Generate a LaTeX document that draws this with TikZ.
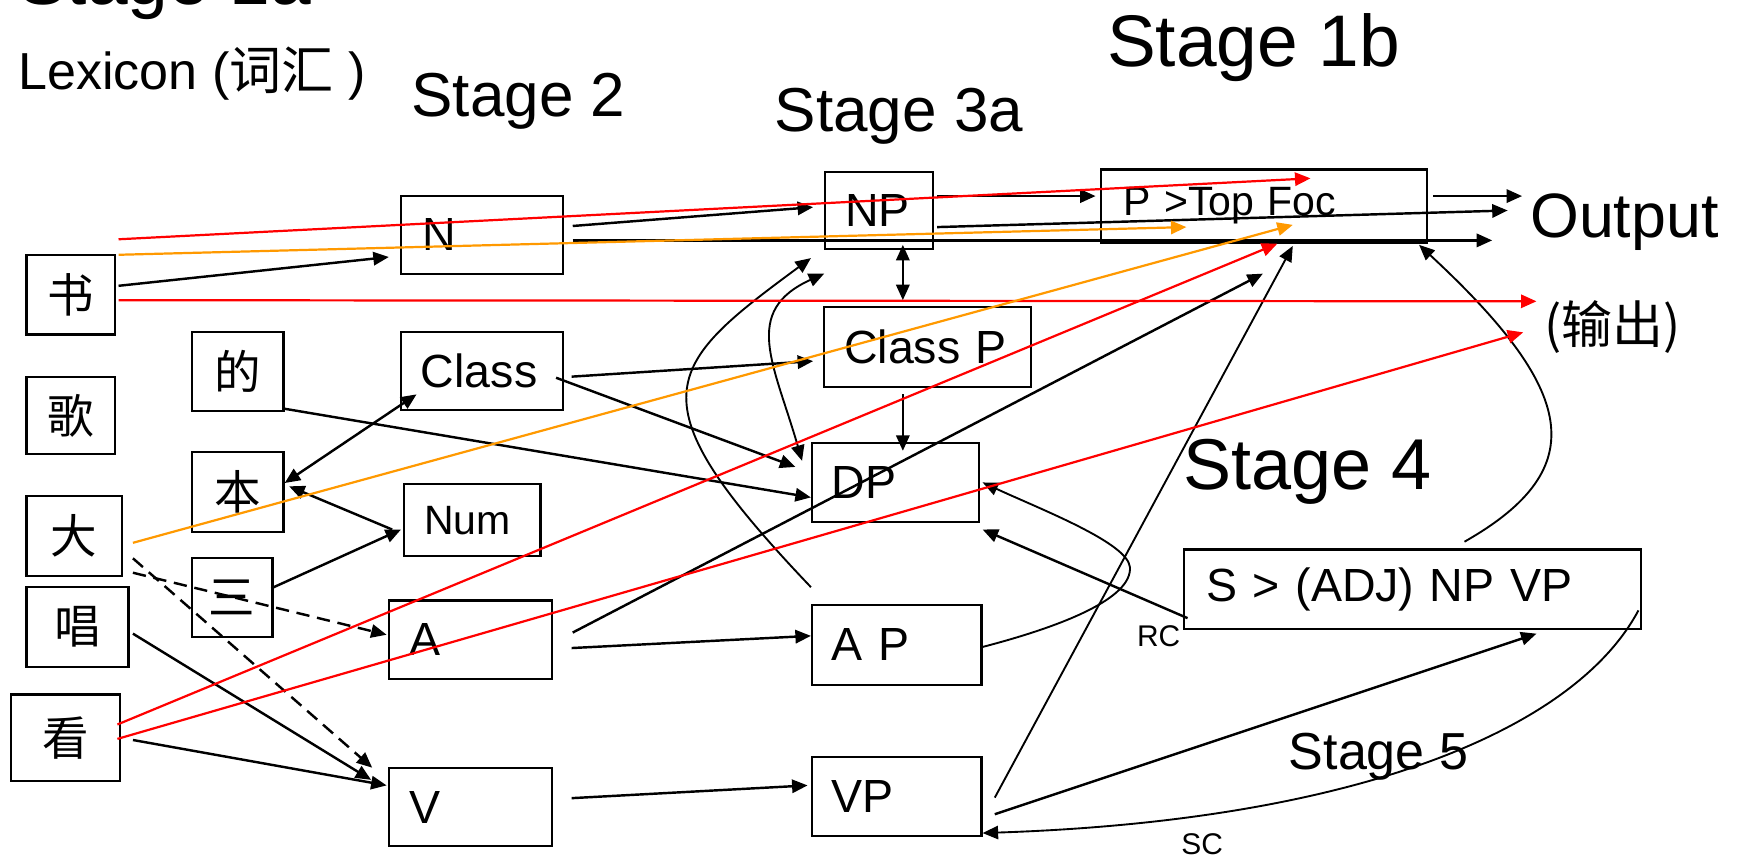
\documentclass[tikz,border=0pt]{standalone}
\usepackage{fontspec}
\setmainfont{Liberation Sans}
\newfontfamily\cjk{Noto Sans CJK SC}
\usetikzlibrary{arrows.meta,calc}
\definecolor{lred}{RGB}{255,0,0}
\definecolor{lorange}{RGB}{255,153,0}
\newcommand\fsz[1]{\fontsize{#1}{#1}\selectfont}
\tikzset{
  box/.style={draw, line width=1pt, inner ysep=0pt, align=left, font=\fsz{21}},
  cbox/.style={draw, line width=1pt, inner sep=0pt, font=\cjk\fsz{21}},
  lbl/.style={anchor=base west, inner sep=0pt},
  tip/.style={-{Triangle[length=7pt,width=6pt]}},
  arr/.style={tip, line width=1.1pt},
  darr/.style={{Triangle[length=7pt,width=6pt]}-{Triangle[length=7pt,width=6pt]}, line width=1.1pt},
  thin/.style={line width=0.85pt},
  dasharr/.style={arr, dash pattern=on 6pt off 3.5pt},
  redarr/.style={tip, draw=lred, line width=1pt},
  orarr/.style={tip, draw=lorange, line width=1pt}
}
\begin{document}
\begin{tikzpicture}[x=0.5pt,y=-0.5pt]
\useasboundingbox (0,0) rectangle (1568,775);

% headings
\node[lbl, font=\fsz{33}] (s1a) at (16,4) {Stage 1a};
\node[lbl, font=\fsz{23.5}] (lex) at (16,81) {Lexicon ({\cjk 词汇} )};
\node[lbl, font=\fsz{28}] (s2) at (371,105) {Stage 2};
\node[lbl, font=\fsz{28}] (s3a) at (699,119) {Stage 3a};
\node[lbl, font=\fsz{33}] (s1b) at (999,60) {Stage 1b};
\node[lbl, font=\fsz{32.5}] (s4) at (1068,442) {Stage 4};
\node[lbl, font=\fsz{23.5}] (s5) at (1163,695) {Stage 5};
\node[lbl, font=\fsz{28.3}] (out) at (1381,214) {Output};
\node[anchor=west, inner sep=0pt, font=\cjk\fsz{23}] (outcn) at (1394,295) {(输出)};
\node[lbl, font=\fsz{13.5}] (rc) at (1026,584) {RC};
\node[lbl, font=\fsz{13.5}] (sc) at (1066,771) {SC};

% lexicon entries
\node[cbox, minimum width=40pt, minimum height=36pt] (shu) at (64,266) {书};
\node[cbox, minimum width=40pt, minimum height=35pt] (ge) at (64,375) {歌};
\node[cbox, minimum width=43pt, minimum height=36pt] (da) at (67,484) {大};
\node[cbox, minimum width=46pt, minimum height=36pt] (chang) at (70,566) {唱};
\node[cbox, minimum width=49pt, minimum height=39pt] (kan) at (59,666) {看};
\node[cbox, minimum width=41.5pt, minimum height=35.5pt] (de) at (214.5,335.5) {的};
\node[cbox, minimum width=41.5pt, minimum height=36pt] (ben) at (214.5,444) {本};
\node[cbox, minimum width=36.5pt, minimum height=35.5pt] (san) at (209.5,539.5) {三};

% category boxes
\node[box, minimum height=35pt, text width=54pt, inner xsep=9.5pt] (N) at (435,212) {N};
\node[box, minimum height=35pt, text width=55pt, inner xsep=9pt] (Class) at (435,335) {Class};
\node[box, minimum height=32.5pt, text width=43.5pt, inner xsep=9pt, font=\fsz{18.5}] (Num) at (426.5,469.5) {Num};
\node[box, minimum height=35.5pt, text width=54.5pt, inner xsep=9.5pt] (A) at (424.5,577.5) {A};
\node[box, minimum height=35.5pt, text width=54.5pt, inner xsep=9.5pt] (V) at (424.5,728.5) {V};
\node[box, minimum height=35pt, text width=30.5pt, inner xsep=9pt] (NP) at (793.5,190) {NP};
\node[box, minimum height=36pt, text width=75.5pt, inner xsep=9pt] (ClassP) at (837.5,313) {Class P};
\node[box, minimum height=35.5pt, text width=57.5pt, inner xsep=9pt] (DP) at (808.5,435.5) {DP};
\node[box, minimum height=36pt, text width=58.5pt, inner xsep=9pt] (AP) at (809.5,582) {A P};
\node[box, minimum height=36pt, text width=58.5pt, inner xsep=9pt] (VP) at (809.5,719) {VP};
\node[box, minimum height=33pt, text width=127pt, inner xsep=10pt, font=\fsz{18.5}] (PT) at (1141,186) {P >Top Foc};
\node[box, minimum height=36pt, text width=186pt, inner xsep=10pt] (S) at (1275,532) {S > (ADJ) NP VP};

% black connectors
\draw[arr] ($(shu.east)+(2,-8)$) -- ($(N.west)+(-10,20)$);
\draw[arr] ($(N.east)+(8,-8)$) -- ($(NP.west)+(-10,-3)$);
\draw[arr] ($(N.east)+(8,5)$) -- ($(out.base west)+(-34,3)$);
\draw[arr] ($(NP.east)+(3,-13)$) -- ($(PT.west)+(-4,-9)$);
\draw[arr] ($(NP.east)+(3,15)$) -- ($(out.base west)+(-20,-24)$);
\draw[arr] ($(PT.east)+(5,-9)$) -- ($(out.base west)+(-7,-37)$);
\draw[arr] ($(Class.east)+(7,5)$) -- ($(ClassP.west)+(-9,13)$);
\draw[arr] ($(Class.east)+(-7,6)$) -- ($(DP.west)+(-14,-14)$);
\draw[arr] ($(de.south east)+(0,-3)$) -- ($(DP.west)+(0,13.5)$);
\draw[darr] ($(NP.south)+(21.5,-5)$) -- ($(ClassP.north)+(-22.5,-5)$);
\draw[arr] ($(ClassP.south)+(-22.5,6)$) -- ($(DP.north)+(6.5,8)$);
\draw[darr] ($(ben.east)+(0,-8)$) -- ($(Class.south west)+(15,-15)$);
\draw[arr] ($(Num.west)+(-10,8.5)$) -- ($(ben.east)+(4,-5)$);
\draw[arr] ($(san.east)+(-2,-8.5)$) -- ($(Num.west)+(-2,8.5)$);
\draw[dasharr] ($(da.east)+(9,33)$) -- ($(A.west)+(-1,-4.5)$);
\draw[dasharr] ($(da.east)+(9,20)$) -- ($(V.west)+(-14,-35.5)$);
\draw[arr] ($(chang.east)+(3,6)$) -- ($(V.west)+(-15,-24.5)$);
\draw[arr] ($(kan.east)+(11,2)$) -- ($(V.west)+(-1,-19.5)$);
\draw[arr] ($(A.east)+(17,7.5)$) -- ($(AP.west)+(0,-8)$);
\draw[arr] ($(A.east)+(18,-6.5)$) -- ($(PT.south)+(-1,27)$);
\draw[arr] ($(V.east)+(17,-8)$) -- ($(VP.west)+(-3,-10)$);

% stage 4 / stage 5 links
\draw[arr, thin] ($(AP.east)+(0,2)$) .. controls (960,565) and (1022,540) .. (1020,512)
  .. controls (1018,490) and (940,460) .. ($(DP.east)+(2,0)$);
\draw[arr] ($(S.west)+(4,26)$) -- ($(DP.south east)+(2,6)$);
\draw[arr, thin] ($(S.north)+(47,-6)$) .. controls +(118,-67) and +(140,130) .. ($(PT.south east)+(-8,1)$);
\draw[arr, thin] ($(VP.east)+(11,1)$) -- ($(PT.south)+(26,2)$);
\draw[arr] ($(VP.east)+(11,16)$) -- ($(S.south)+(112,3)$);
\draw[arr, thin] ($(S.east)+(-3,19)$) .. controls +(-58,109) and +(334,-11) .. ($(VP.south east)+(0,-4)$);
\draw[arr, thin] ($(AP.north west)+(0,-15)$) .. controls +(-163,-171) and +(-133,98) .. ($(NP.south west)+(-12,7)$);
\draw[darr, thin] ($(DP.north west)+(-8,17)$) .. controls +(-25,-87) and +(-75,34) .. ($(NP.south west)+(0,21)$);

% red routes
\draw[redarr] ($(shu.north east)+(2,-13)$) -- ($(PT.north)+(42,9)$);
\draw[redarr] ($(shu.east)+(2,5)$) -- ($(outcn.west)+(-7,-23)$);
\draw[redarr] ($(kan.east)+(-3,-12)$) -- ($(PT.south)+(12,0)$);
\draw[redarr] ($(kan.east)+(-3,1)$) -- ($(outcn.west)+(-19,5)$);

% orange routes
\draw[orarr] ($(shu.north east)+(2,1)$) -- ($(PT.west)+(78,19)$);
\draw[orarr] ($(da.east)+(9,6)$) -- ($(PT.center)+(26,17)$);
\end{tikzpicture}
\end{document}
